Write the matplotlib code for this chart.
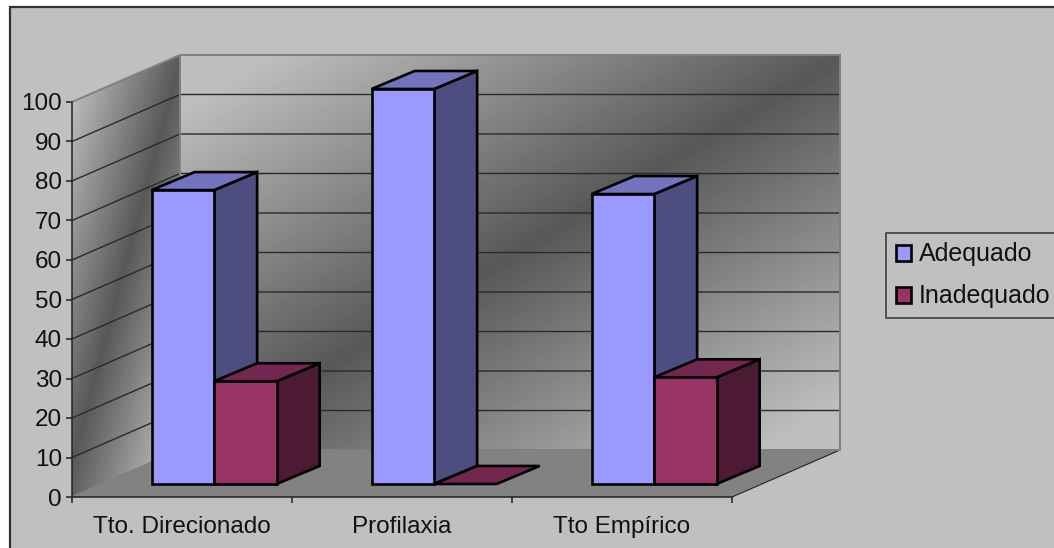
import matplotlib
matplotlib.use('Agg')
import matplotlib.pyplot as plt
from matplotlib.patches import Patch, Polygon, Rectangle
import numpy as np

plt.rcParams['font.family'] = ['Liberation Sans', 'DejaVu Sans']

categories = ['Tto. Direcionado', 'Profilaxia', 'Tto Empírico']
adequado = [74.4, 100, 73.4]
inadequado = [26, 0, 27]
y_ticks = list(range(0, 101, 10))

W, H = 1054, 548
# plot box in pixels
LEFT, RIGHT, TOP, BOTTOM = 72, 732, 102, 497

# depth of the walls and bars, in data units
WALL_DX = 108 / 220
WALL_DY = 47 / 3.95
BAR_DX = 43 / 220
BAR_DY = 18 / 3.95
BAR_BASE = 3.3
BAR_W = 62.5 / 220
BAR_START = 0.362

BLUE = ('#9999ff', '#7373bf', '#4d4d80')
RED = ('#993366', '#732650', '#4d1a33')
FONT = 17.5

fig = plt.figure(figsize=(W / 100, H / 100), dpi=100, facecolor='white')

# background layer in pixel coordinates, for the gradients
bg = fig.add_axes([0, 0, 1, 1], zorder=0)
bg.set_xlim(0, W)
bg.set_ylim(H, 0)
bg.axis('off')
bg.add_patch(Rectangle((10, 7), W, H, facecolor='#c0c0c0', edgecolor='#333333', lw=1.6))

xx, yy = np.meshgrid(np.arange(W) + 0.5, np.arange(H) + 0.5)

def wall(shade, poly):
    im = bg.imshow(shade, cmap='gray', vmin=0, vmax=255, extent=(0, W, H, 0), aspect='auto', zorder=1)
    im.set_clip_path(Polygon(poly, transform=bg.transData))

# back wall: light corners, dark diagonal band
s = np.abs(yy + 0.6 * xx - 562) / 345
wall(88 + (190 - 88) * np.clip(s, 0, 1), [(180, 55), (840, 55), (840, 450), (180, 450)])

# side wall
s = np.abs(xx + 0.27 * yy - 197) / 100
wall(88 + (190 - 88) * np.clip(s, 0, 1), [(72, 102), (180, 55), (180, 450), (72, 497)])
bg.set_xlim(0, W)
bg.set_ylim(H, 0)

# main axes sits on the front of the plot box, everything deeper is unclipped
ax = fig.add_axes([LEFT / W, 1 - BOTTOM / H, (RIGHT - LEFT) / W, (BOTTOM - TOP) / H], zorder=1)
ax.patch.set_alpha(0)
ax.set_xlim(0, 3)
ax.set_ylim(0, 100)
for side in ('top', 'right'):
    ax.spines[side].set_visible(False)
for side in ('left', 'bottom'):
    ax.spines[side].set_color('#222222')
    ax.spines[side].set_linewidth(1.1)

ax.set_yticks(y_ticks)
ax.set_xticks([0, 1, 2, 3])
ax.set_xticklabels([])
ax.set_xticks([0.5, 1.5, 2.5], categories, minor=True)
ax.tick_params(axis='both', which='major', length=4.3, width=1.1, color='#222222', labelsize=FONT, labelcolor='#111111')
ax.tick_params(axis='x', which='minor', length=0, pad=14, labelsize=FONT, labelcolor='#111111')
ax.tick_params(axis='y', pad=2.9)

# floor
ax.fill([0, WALL_DX, 3 + WALL_DX, 3], [0, WALL_DY, WALL_DY, 0], color='#828282', lw=0, clip_on=False, zorder=1)
ax.plot([3, 3 + WALL_DX], [0, WALL_DY], color='#222222', lw=0.8, clip_on=False, zorder=2)
ax.plot([0, WALL_DX], [0, WALL_DY], color='#a0a0a0', lw=0.8, ls=':', clip_on=False, zorder=2)

# gridlines on both walls
for t in y_ticks:
    col = '#808080' if t in (0, 100) else '#2a2a2a'
    lw = 1.4 if t in (0, 100) else 1.0
    ax.plot([0, WALL_DX, 3 + WALL_DX], [t, t + WALL_DY, t + WALL_DY], color=col, lw=lw, clip_on=False, zorder=2)
ax.plot([WALL_DX, WALL_DX], [WALL_DY, 100 + WALL_DY], color='#808080', lw=1.4, clip_on=False, zorder=2)
ax.plot([3 + WALL_DX, 3 + WALL_DX], [WALL_DY, 100 + WALL_DY], color='#808080', lw=1.4, clip_on=False, zorder=2)

def bar3d(x, val, colors, z):
    top = BAR_BASE + val
    common = dict(edgecolor='black', lw=1.9, clip_on=False, zorder=z, joinstyle='miter')
    if val > 0:
        ax.fill([x + BAR_W, x + BAR_W + BAR_DX, x + BAR_W + BAR_DX, x + BAR_W],
                [BAR_BASE, BAR_BASE + BAR_DY, top + BAR_DY, top], facecolor=colors[2], **common)
    ax.fill([x, x + BAR_DX, x + BAR_W + BAR_DX, x + BAR_W],
            [top, top + BAR_DY, top + BAR_DY, top], facecolor=colors[1], **common)
    if val > 0:
        ax.bar(x, val, BAR_W, bottom=BAR_BASE, align='edge', color=colors[0], **common)

for i in range(len(categories)):
    bar3d(i + BAR_START, adequado[i], BLUE, 3 + i)
    bar3d(i + BAR_START + BAR_W, inadequado[i], RED, 3.5 + i)

handles = [Patch(facecolor=BLUE[0], edgecolor='black', lw=1.9), Patch(facecolor=RED[0], edgecolor='black', lw=1.9)]
leg = fig.legend(handles, ['Adequado', 'Inadequado'], loc='upper left',
                 bbox_to_anchor=(886 / W, 1 - 233 / H), bbox_transform=fig.transFigure,
                 fontsize=18, labelcolor='#111111', frameon=True, fancybox=False, facecolor='#c0c0c0',
                 edgecolor='#333333', framealpha=1, borderaxespad=0, borderpad=0.38, handlelength=0.6,
                 handleheight=0.6, handletextpad=0.33, labelspacing=0.72)
leg.get_frame().set_linewidth(1.1)

fig.savefig('out.png', dpi=100)
